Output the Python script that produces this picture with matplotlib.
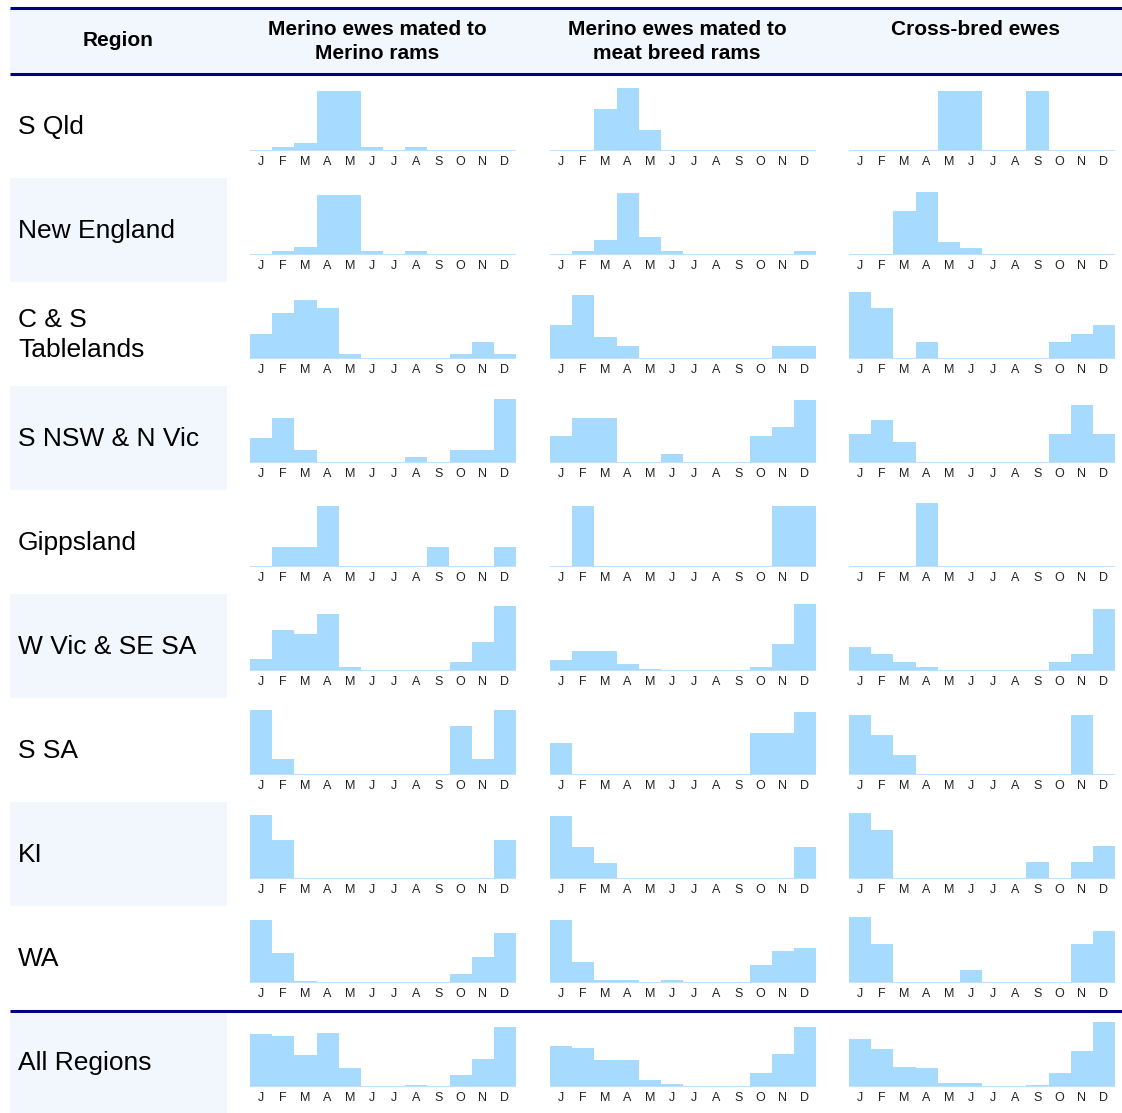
import matplotlib
matplotlib.use("Agg")
import matplotlib.pyplot as plt
from matplotlib.patches import Rectangle

plt.rcParams['font.family'] = ['Liberation Sans', 'DejaVu Sans']

months = ['J', 'F', 'M', 'A', 'M', 'J', 'J', 'A', 'S', 'O', 'N', 'D']
regions = ['S Qld', 'New England', 'C & S\nTablelands', 'S NSW & N Vic', 'Gippsland',
           'W Vic & SE SA', 'S SA', 'KI', 'WA', 'All Regions']
col_titles = ['Merino ewes mated to\nMerino rams',
              'Merino ewes mated to\nmeat breed rams',
              'Cross-bred ewes']

# relative share of lambings per month
merino_merino = [
    [0, 4, 8, 60, 60, 4, 0, 4, 0, 0, 0, 0],
    [0, 4, 8, 60, 60, 4, 0, 4, 0, 0, 0, 0],
    [25, 46, 59, 51, 5, 0, 0, 0, 0, 5, 17, 5],
    [25, 45, 13, 0, 0, 0, 0, 6, 0, 13, 13, 64],
    [0, 20, 20, 60, 0, 0, 0, 0, 20, 0, 0, 20],
    [12, 41, 37, 57, 4, 0, 0, 0, 0, 9, 29, 65],
    [65, 16, 0, 0, 0, 0, 0, 0, 0, 49, 16, 65],
    [64, 39, 0, 0, 0, 0, 0, 0, 0, 0, 0, 39],
    [63, 30, 2, 0, 0, 0, 0, 0, 0, 9, 26, 50],
    [53, 51, 32, 54, 19, 1, 0.3, 2, 1, 12, 28, 60],
]
merino_meat = [
    [0, 0, 42, 63, 21, 0, 0, 0, 0, 0, 0, 0],
    [0, 4, 15, 62, 18, 4, 0, 0, 0, 0, 0, 4],
    [34, 64, 22, 13, 0, 0, 0, 0, 0, 0, 13, 13],
    [27, 45, 45, 0, 0, 9, 0, 0, 0, 27, 36, 63],
    [0, 60, 0, 0, 0, 0, 0, 0, 0, 0, 60, 60],
    [11, 20, 20, 7, 2, 0, 0, 0, 0, 4, 27, 67],
    [32, 0, 0, 0, 0, 0, 0, 0, 0, 42, 42, 63],
    [63, 32, 16, 0, 0, 0, 0, 0, 0, 0, 0, 32],
    [63, 21, 3, 3, 0, 3, 0, 0, 0, 18, 32, 35],
    [41, 39, 27, 27, 7, 3, 0.3, 0.3, 0.3, 14, 33, 60],
]
cross_bred = [
    [0, 0, 0, 0, 60, 60, 0, 0, 60, 0, 0, 0],
    [0, 0, 44, 63, 13, 7, 0, 0, 0, 0, 0, 0],
    [67, 51, 0, 17, 0, 0, 0, 0, 0, 17, 25, 34],
    [29, 43, 21, 0, 0, 0, 0, 0, 0, 29, 58, 29],
    [0, 0, 0, 63, 0, 0, 0, 0, 0, 0, 0, 0],
    [24, 17, 9, 4, 0, 0, 0, 0, 0, 9, 17, 62],
    [60, 40, 20, 0, 0, 0, 0, 0, 0, 0, 60, 0],
    [66, 49, 0, 0, 0, 0, 0, 0, 17, 0, 17, 33],
    [66, 39, 0, 0, 0, 13, 0, 0, 0, 0, 39, 52],
    [48, 38, 20, 19, 4, 4, 0.3, 0.3, 2, 14, 36, 65],
]
columns = [merino_merino, merino_meat, cross_bred]

W, H = 1122, 1113
navy = '#00007F'
shade = '#F2F7FE'
bar_c = '#A6DAFE'

fig = plt.figure(figsize=(W / 100, H / 100), dpi=100)
bg = fig.add_axes([0, 0, 1, 1])
bg.set_xlim(0, W)
bg.set_ylim(H, 0)
bg.axis('off')

# header
bg.add_patch(Rectangle((10, 8), W - 10, 65, color=shade, lw=0))
for y in (7.5, 73.5, 1011):
    bg.plot([10, W], [y, y], color=navy, lw=2.2, solid_capstyle='butt')
bg.text(118, 40, 'Region', ha='center', va='center', fontsize=15, fontweight='bold')
col_x = [250, 550, 849]
for x0, title in zip(col_x, col_titles):
    bg.text(x0 + 127, 20, title, ha='center', va='top', fontsize=15,
            fontweight='bold', linespacing=1.32)

# rows
row_top = 76
row_h = 104
for r, name in enumerate(regions):
    top = row_top + r * row_h
    if r % 2 == 1:
        y0 = top + 2 if r == 9 else top - 2
        bg.add_patch(Rectangle((10, y0), 217, H - y0 if r == 9 else row_h, color=shade, lw=0))
    bg.text(18, top + 51, name, ha='left', va='center', fontsize=19, linespacing=1.3)

    base = 150.5 + r * row_h
    for c, x0 in enumerate(col_x):
        vals = columns[c][r]
        ax = fig.add_axes([x0 / W, (H - base) / H, 266 / W, 70 / H])
        ax.bar(range(12), vals, width=1, color=bar_c, lw=0)
        ax.axhline(0, color='#BEE2FF', lw=1.5)
        ax.set_xlim(-0.5, 11.5)
        ax.set_ylim(0, 70)
        ax.set_yticks([])
        ax.set_xticks(range(12))
        ax.set_xticklabels(months)
        ax.tick_params(axis='x', length=0, pad=4, labelsize=9, colors='#222222')
        for s in ax.spines.values():
            s.set_visible(False)
        ax.patch.set_alpha(0)

fig.savefig('out.png', dpi=100)
